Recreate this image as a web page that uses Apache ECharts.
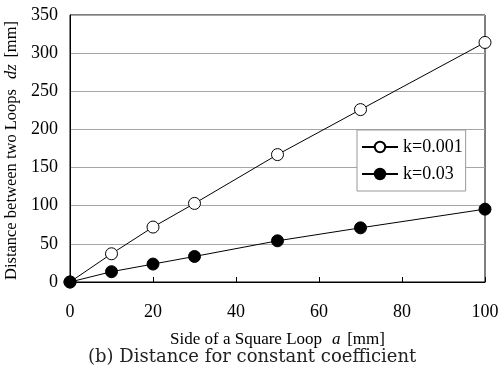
<!DOCTYPE html>
<html>
<head>
<meta charset="utf-8">
<script src="https://cdn.jsdelivr.net/npm/echarts@6/dist/echarts.min.js"></script>
<style>
  html, body { margin: 0; padding: 0; background: #fff; }
  #chart { width: 498px; height: 377px; }
</style>
</head>
<body>
<div id="chart"></div>
<script>
// Side of the square loop a [mm]
const sideA = [0, 10, 20, 30, 50, 70, 100];
// Distance between loops dz [mm] for each coupling coefficient
const distK0001 = [0, 37, 72, 103, 167, 226, 314];
const distK003 = [0, 13.5, 23.5, 33.5, 54, 71, 95.5];
const seriesNames = ['k=0.001', 'k=0.03'];

const serif = '"Liberation Serif", "Times New Roman", serif';

function pairs(xs, ys) {
  return xs.map((x, i) => [x, ys[i]]);
}

function titleRich(size) {
  return {
    n: { fontFamily: serif, fontSize: size, color: '#000' },
    i: { fontFamily: serif, fontSize: size, fontStyle: 'italic', color: '#000' }
  };
}

const chart = echarts.init(document.getElementById('chart'), null, { renderer: 'canvas' });

chart.setOption({
  animation: false,
  backgroundColor: '#fff',
  grid: {
    left: 70, right: 13, top: 15, bottom: 95,
    outerBoundsMode: 'none', containLabel: false,
    show: true, borderColor: '#000', borderWidth: 1, backgroundColor: 'transparent'
  },
  xAxis: {
    type: 'value', min: 0, max: 100, interval: 20,
    axisLine: { lineStyle: { color: '#000', width: 1 } },
    axisTick: { inside: true, length: 5, lineStyle: { color: '#000' } },
    splitLine: { show: false },
    axisLabel: { color: '#000', fontFamily: serif, fontSize: 18, margin: 21 },
    name: '{n|Side of a Square Loop}   {i|a}  {n|[mm]}',
    nameLocation: 'middle', nameGap: 49,
    nameTextStyle: { rich: titleRich(17) }
  },
  yAxis: {
    type: 'value', min: 0, max: 350, interval: 50,
    axisLine: { lineStyle: { color: '#000', width: 1 } },
    axisTick: { show: false },
    splitLine: { lineStyle: { color: '#a6a6a6', width: 1 } },
    axisLabel: { color: '#000', fontFamily: serif, fontSize: 18, margin: 12 },
    name: '{n|Distance between two Loops}   {i|dz}  {n|[mm]}',
    nameLocation: 'middle', nameGap: 45, nameRotate: 90,
    nameTextStyle: { rich: titleRich(16.5), padding: [0, 4, 0, 0] }
  },
  legend: {
    orient: 'vertical', left: 357, top: 130,
    itemWidth: 36, itemHeight: 13, itemGap: 9,
    padding: [8, 3, 8, 4],
    borderColor: '#999', borderWidth: 1, backgroundColor: '#fff',
    textStyle: { fontFamily: serif, fontSize: 18, color: '#000' },
    data: seriesNames
  },
  series: [
    {
      name: seriesNames[0], type: 'line', data: pairs(sideA, distK0001),
      symbol: 'circle', symbolSize: 12, z: 3,
      lineStyle: { color: '#000', width: 1 },
      itemStyle: { color: '#fff', borderColor: '#000', borderWidth: 1 }
    },
    {
      name: seriesNames[1], type: 'line', data: pairs(sideA, distK003),
      symbol: 'circle', symbolSize: 12, z: 4,
      lineStyle: { color: '#000', width: 1 },
      itemStyle: { color: '#000', borderColor: '#000', borderWidth: 1 }
    }
  ],
  graphic: [
    {
      type: 'text', left: 88, top: 348,
      style: {
        text: '(b) Distance for constant coefficient',
        font: '18px "DejaVu Serif", serif', fill: '#222'
      }
    }
  ]
});
</script>
</body>
</html>
